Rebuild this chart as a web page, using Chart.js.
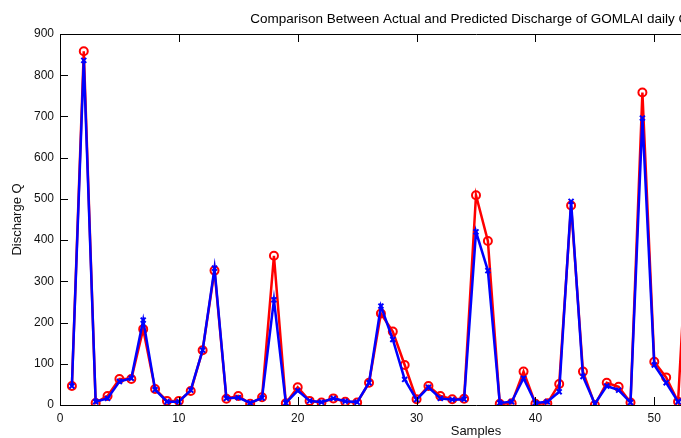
<!DOCTYPE html>
<html>
<head>
<meta charset="utf-8">
<script src="https://cdn.jsdelivr.net/npm/chart.js@4.4.1/dist/chart.umd.min.js"></script>
<style>
  html, body { margin: 0; padding: 0; overflow: hidden; background: #fff; }
  #wrap { position: relative; width: 960px; height: 438px; }
</style>
</head>
<body>
<div id="wrap"><canvas id="chart"></canvas></div>
<script>
// sample numbers (x) and discharge values
const samples = [1, 2, 3, 4, 5, 6, 7, 8, 9, 10, 11, 12, 13, 14, 15, 16, 17, 18, 19, 20,
  21, 22, 23, 24, 25, 26, 27, 28, 29, 30, 31, 32, 33, 34, 35, 36, 37, 38, 39, 40,
  41, 42, 43, 44, 45, 46, 47, 48, 49, 50, 51, 52, 53];
const actualQ = [46, 858, 5, 22, 63, 63, 184, 39, 10, 10, 34, 133, 326, 15, 22, 3, 19, 362, 4, 43,
  10, 6, 16, 8, 6, 54, 222, 178, 97, 14, 46, 22, 14, 15, 509, 398, 3, 4, 81, 3,
  4, 51, 484, 81, 0, 54, 44, 6, 758, 105, 67, 8, 530];
const predictedQ = [46, 836, 8, 16, 57, 65, 206, 37, 8, 8, 36, 133, 332, 16, 18, 5, 17, 255, 5, 35,
  10, 7, 16, 9, 7, 54, 240, 159, 62, 13, 43, 16, 13, 14, 420, 326, 5, 8, 65, 5,
  8, 32, 494, 69, 3, 46, 36, 6, 696, 97, 54, 8, 30];
const xTicks = [0, 10, 20, 30, 40, 50, 60, 70];
const yTicks = [0, 100, 200, 300, 400, 500, 600, 700, 800, 900];

const toPoints = vals => vals.map((v, i) => ({ x: samples[i], y: v }));
const fontFamily = '"Liberation Sans", Arial, Helvetica, sans-serif';

// matlab style box with inward ticks
const boxPlugin = {
  id: 'matlabBox',
  afterDraw(chart) {
    const { ctx, chartArea: a, scales } = chart;
    const len = 8;
    ctx.save();
    ctx.strokeStyle = '#000';
    ctx.lineWidth = 1;
    ctx.beginPath();
    ctx.rect(Math.round(a.left) + 0.5, Math.round(a.top) + 0.5,
      Math.round(a.right - a.left), Math.round(a.bottom - a.top));
    xTicks.forEach(t => {
      const px = Math.round(scales.x.getPixelForValue(t)) + 0.5;
      ctx.moveTo(px, a.bottom); ctx.lineTo(px, a.bottom - len);
      ctx.moveTo(px, a.top); ctx.lineTo(px, a.top + len);
    });
    yTicks.forEach(t => {
      const py = Math.round(scales.y.getPixelForValue(t)) + 0.5;
      ctx.moveTo(a.left, py); ctx.lineTo(a.left + len, py);
      ctx.moveTo(a.right, py); ctx.lineTo(a.right - len, py);
    });
    ctx.stroke();
    ctx.restore();
  }
};

new Chart(document.getElementById('chart'), {
  type: 'line',
  data: {
    datasets: [{
      label: 'Actual',
      data: toPoints(actualQ),
      borderColor: '#ff0000',
      borderWidth: 2.5,
      pointStyle: 'circle',
      pointRadius: 4,
      pointBorderWidth: 2,
      pointBorderColor: '#ff0000',
      pointBackgroundColor: 'rgba(255,255,255,0)',
      tension: 0,
      order: 1
    }, {
      label: 'Predicted',
      data: toPoints(predictedQ),
      borderColor: '#0000ff',
      borderWidth: 2.5,
      pointStyle: 'crossRot',
      pointRadius: 3.5,
      pointBorderWidth: 2,
      pointBorderColor: '#0000ff',
      tension: 0,
      order: 0
    }]
  },
  options: {
    responsive: true,
    maintainAspectRatio: false,
    animation: false,
    layout: { padding: { left: 0, right: 68, top: 0, bottom: 0 } },
    plugins: {
      legend: { display: false },
      tooltip: { enabled: false },
      title: {
        display: true,
        fullSize: false,
        text: 'Comparison Between Actual and Predicted Discharge of GOMLAI daily Q(t)',
        color: '#000',
        font: { family: fontFamily, size: 13.5, weight: 'normal' },
        padding: { top: 11, bottom: 6.8 }
      }
    },
    scales: {
      x: {
        type: 'linear',
        min: 0,
        max: 70,
        grid: { display: false, drawTicks: false },
        border: { display: false },
        afterFit: s => { s.height = 33; },
        afterBuildTicks: s => { s.ticks = xTicks.map(v => ({ value: v })); },
        ticks: {
          padding: 6,
          color: '#111',
          font: { family: fontFamily, size: 12 }
        },
        title: {
          display: true,
          text: 'Samples',
          color: '#111',
          font: { family: fontFamily, size: 13 },
          padding: { top: 0, bottom: -1 }
        }
      },
      y: {
        min: 0,
        max: 900,
        grid: { display: false, drawTicks: false },
        border: { display: false },
        afterFit: s => { s.width = 60; },
        afterBuildTicks: s => { s.ticks = yTicks.map(v => ({ value: v })); },
        ticks: {
          padding: 6,
          color: '#111',
          font: { family: fontFamily, size: 12 }
        },
        title: {
          display: true,
          text: 'Discharge Q',
          color: '#111',
          font: { family: fontFamily, size: 13 },
          padding: { top: 10, bottom: 0 }
        }
      }
    }
  },
  plugins: [boxPlugin]
});
</script>
</body>
</html>
